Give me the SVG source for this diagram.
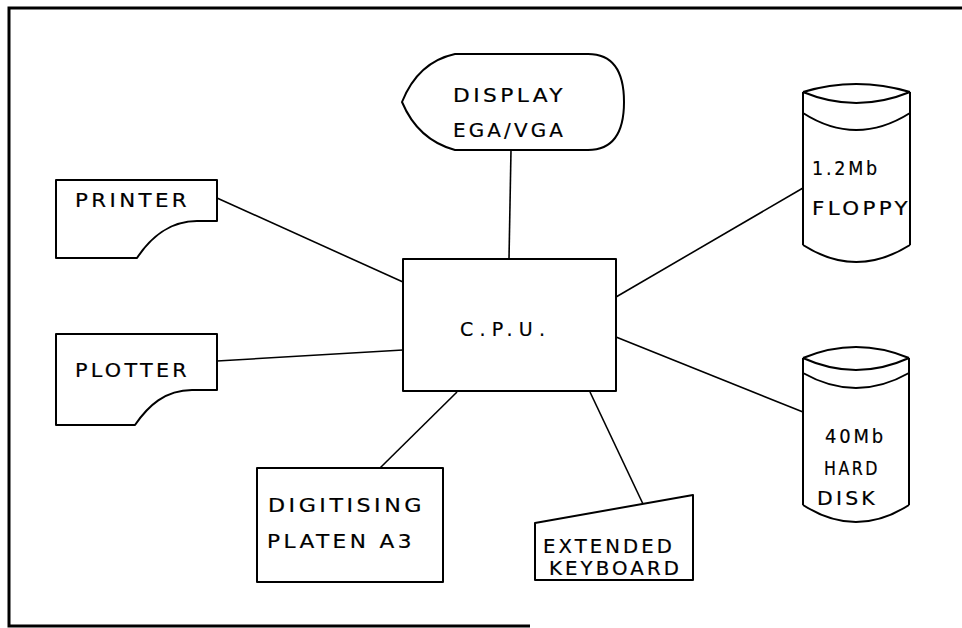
<svg xmlns="http://www.w3.org/2000/svg" width="962" height="628" viewBox="0 0 962 628">
<style>
.shape{fill:none;stroke:#000;stroke-width:2;stroke-linejoin:round}
.conn{fill:none;stroke:#000;stroke-width:1.6}
.frame{fill:none;stroke:#000;stroke-width:3}
text{font-family:"DejaVu Sans","Liberation Sans",sans-serif;font-size:19px;letter-spacing:3px;fill:#000;stroke:#000;stroke-width:0.2}
</style>
<rect width="962" height="628" fill="#fff"/>
<g id="frame">
<path class="frame" d="M962,8 L9,8 L9,626 L530,626"/>
</g>
<g id="connectors">
<line class="conn" x1="511" y1="150" x2="509" y2="259"/>
<line class="conn" x1="217" y1="198" x2="403" y2="282"/>
<line class="conn" x1="217" y1="361" x2="403" y2="350"/>
<line class="conn" x1="616" y1="297" x2="803" y2="188"/>
<line class="conn" x1="616" y1="337" x2="803" y2="412"/>
<line class="conn" x1="457" y1="392" x2="380" y2="468"/>
<line class="conn" x1="590" y1="392" x2="643" y2="504"/>
</g>
<g id="display">
<path class="shape" d="M455,54 L588,54 Q624,54 624,102 Q624,150 588,150 L455,150 Q418,140 402,102 Q418,62 455,54 Z"/>
<text x="453" y="102" textLength="113" lengthAdjust="spacingAndGlyphs">DISPLAY</text>
<text x="453" y="137" textLength="113" lengthAdjust="spacingAndGlyphs">EGA/VGA</text>
</g>
<g id="cpu">
<rect class="shape" x="403" y="259" width="213" height="132"/>
<text x="460" y="336" textLength="88" lengthAdjust="spacing">C.P.U.</text>
</g>
<g id="printer">
<path class="shape" d="M56,180 L217,180 L217,221 L197,221 C170,221 150,238 137,258 L56,258 Z"/>
<text x="75" y="207" textLength="115" lengthAdjust="spacingAndGlyphs">PRINTER</text>
</g>
<g id="plotter">
<path class="shape" d="M56,334 L217,334 L217,390 L192,390 C165,390 148,406 135,425 L56,425 Z"/>
<text x="75" y="377" textLength="115" lengthAdjust="spacingAndGlyphs">PLOTTER</text>
</g>
<g id="floppy">
<path class="shape" d="M803,92 L803,245 M910,92 L910,245 M803,92 Q856,76 910,92 M803,92 Q856,114 910,92 M803,113 Q856,147 910,113 M803,245 Q856,279 910,245"/>
<text x="812" y="175" textLength="68" lengthAdjust="spacingAndGlyphs">1.2Mb</text>
<text x="812" y="215" textLength="99" lengthAdjust="spacingAndGlyphs">FLOPPY</text>
</g>
<g id="harddisk">
<path class="shape" d="M803,358 L803,505 M909,358 L909,505 M803,358 Q856,336 909,358 M803,358 Q856,382 909,358 M803,373 Q856,403 909,373 M803,505 Q856,539 909,505"/>
<text x="825" y="443" textLength="61" lengthAdjust="spacingAndGlyphs">40Mb</text>
<text x="824" y="475" textLength="56" lengthAdjust="spacingAndGlyphs">HARD</text>
<text x="817" y="505" textLength="61" lengthAdjust="spacingAndGlyphs">DISK</text>
</g>
<g id="digitiser">
<rect class="shape" x="257" y="468" width="186" height="114"/>
<text x="268" y="512" textLength="157" lengthAdjust="spacingAndGlyphs">DIGITISING</text>
<text x="267" y="548" textLength="148" lengthAdjust="spacingAndGlyphs">PLATEN A3</text>
</g>
<g id="keyboard">
<path class="shape" d="M535,523 L693,495 L693,580 L535,580 Z"/>
<text x="543" y="553" textLength="132" lengthAdjust="spacingAndGlyphs">EXTENDED</text>
<text x="549" y="575" textLength="133" lengthAdjust="spacingAndGlyphs">KEYBOARD</text>
</g>
</svg>
